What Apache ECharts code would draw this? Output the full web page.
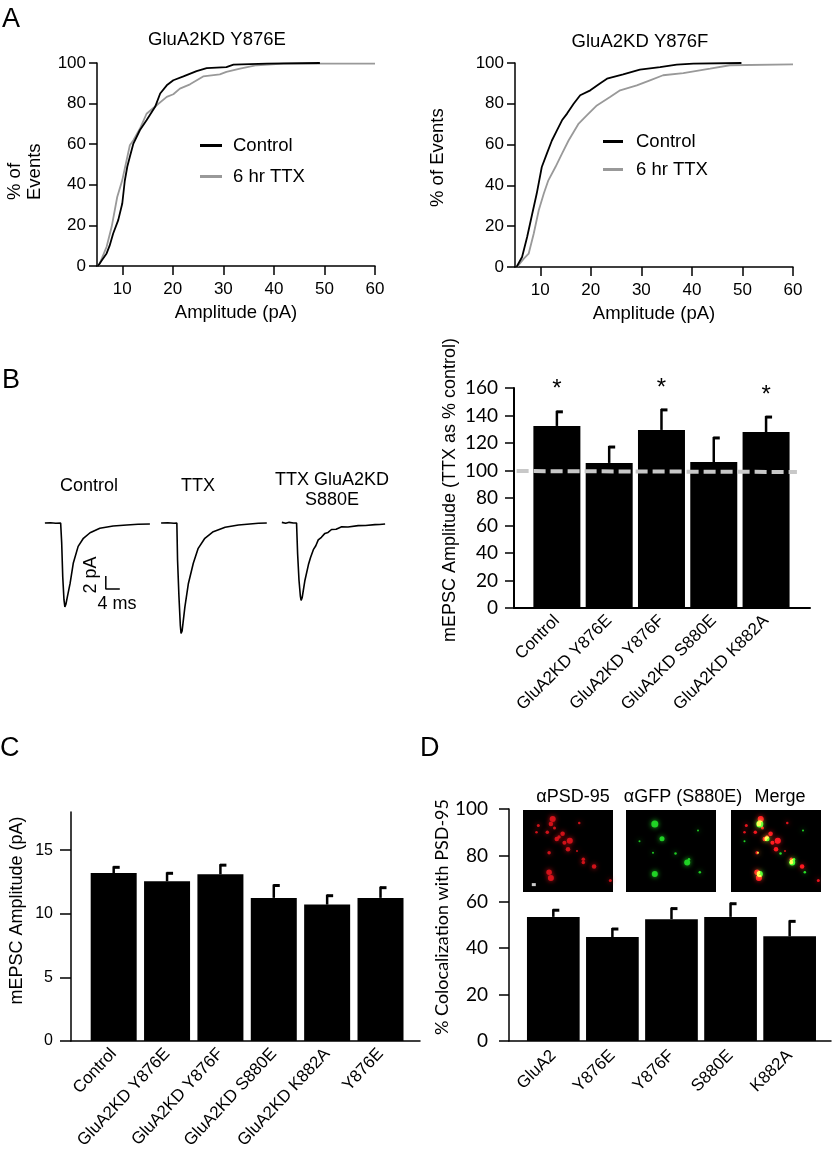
<!DOCTYPE html>
<html><head><meta charset="utf-8">
<script src="https://cdn.jsdelivr.net/npm/echarts@6/dist/echarts.min.js"></script>
<style>html,body{margin:0;padding:0;background:#fff}#c{width:833px;height:1157px}</style>
</head><body><div id="c"></div>
<script>
// ---------- Panel A: cumulative amplitude distributions [pA, % of events] ----------
const cdfY876E_Control = [[5.2,0],[6.0,3],[6.9,6.2],[7.5,10],[8.2,16],[9.2,22.6],[10,30.8],[10.5,42],[11,49],[11.5,53.8],[12.2,60.3],[13.5,67],[14.8,71.8],[16.5,78.4],[17.5,85],[18.8,89],[20.1,91.5],[22.1,93.4],[24.7,96],[26.7,97.5],[30.6,98],[32,99.2],[38.6,99.7],[49.1,100]];
const cdfY876E_TTX = [[5.3,0],[6.0,4],[6.9,9.5],[7.9,19.3],[9,34],[10,42.3],[11.5,59.5],[12.2,62],[13.5,67.7],[14.8,75],[16.8,79.2],[18.8,83.3],[20.1,84.6],[21.4,87.4],[23.4,89.5],[26,93.4],[29.3,94.4],[30.6,95.6],[33.3,97.2],[36.6,98.9],[41.9,99.7],[60,99.7]];
const cdfY876F_Control = [[5.3,0],[6.4,4.9],[7.4,14.7],[8.4,26],[9.3,36],[10.3,49],[11.3,55.6],[12.3,62],[13.3,67],[14.3,71.9],[15.3,75.2],[16.6,80],[17.9,84.2],[19.9,86.6],[21.8,90],[23.2,92.3],[26.4,94.4],[29.7,96.7],[33.7,98],[37,99.2],[40.3,99.7],[49.8,100]];
const cdfY876F_TTX = [[5.4,0],[6.7,4],[7.7,6.5],[8.7,16.3],[9.7,27.8],[10.7,36],[11.6,42.5],[13,49],[14.3,55.6],[15.6,62],[16.6,66.2],[17.6,70.3],[19.2,74.3],[21.2,79.2],[23.8,83.3],[25.8,86.6],[29.1,89],[31.7,91.5],[34.3,94],[38.3,95],[43.6,97.2],[47.5,98.9],[60,99.3]];
const cdfTicks = [10,20,30,40,50,60];

// ---------- Panel B: example traces [time ms, current pA] ----------
const traceControl = [[1.4,0],[3,0.05],[4.5,-0.05],[5.9,0],[6.2,-3.1],[6.5,-8.3],[6.85,-11.8],[7.1,-12.9],[7.4,-12.5],[7.8,-11.4],[8.6,-9.3],[9.5,-6.2],[10.9,-3.6],[12.4,-2.35],[14.3,-1.5],[17.1,-0.82],[20.9,-0.46],[24.8,-0.3],[28,-0.2],[31.4,-0.15]];
const traceTTX = [[34.6,0],[36.5,0.05],[38.3,-0.05],[39.1,0],[39.3,-5.7],[39.7,-11.3],[40.1,-15.8],[40.3,-17],[40.6,-16.6],[41.4,-12.9],[42.4,-9.3],[43.8,-6.2],[45.2,-3.9],[47.1,-2.35],[49.5,-1.34],[52.9,-0.66],[56.7,-0.3],[62.4,-0.05],[64.8,0]];
const traceS880E = [[69.1,0.1],[70.2,-0.05],[71.2,0.1],[72.4,0],[73.3,0],[73.6,-4.7],[74,-8.8],[74.4,-11.3],[74.6,-11.9],[74.9,-11.5],[75.7,-8.8],[76.7,-6.4],[77.3,-5.3],[78.1,-4.1],[78.8,-3.5],[79.5,-2.6],[80.4,-2.2],[81.4,-1.6],[82.3,-1.45],[83.3,-1.0],[84.6,-0.95],[86.2,-0.57],[88,-0.62],[90.9,-0.4],[93,-0.38],[95.7,-0.25],[97,-0.22],[98.6,-0.15]];
const scaleBar = [[18.8,-8.15],[18.8,-10.15],[22.8,-10.15]]; // 2 pA, 4 ms

// ---------- Panel B: TTX as % control ----------
const catsB = ['Control','GluA2KD Y876E','GluA2KD Y876F','GluA2KD S880E','GluA2KD K882A'];
const meanB = [132.4,105.5,129.5,106.2,128];
const semB = [11,12.3,15.3,18.2,11.6];
const sigB = [1,0,1,0,1];
const refLineB = [[-0.77,99.6],[4.59,98.9]];

// ---------- Panel C: mEPSC amplitude ----------
const catsC = ['Control','GluA2KD Y876E','GluA2KD Y876F','GluA2KD S880E','GluA2KD K882A','Y876E'];
const meanC = [13.2,12.55,13.1,11.25,10.72,11.25];
const semC = [0.53,0.71,0.8,1.05,0.78,0.88];

// ---------- Panel D: colocalization ----------
const catsD = ['GluA2','Y876E','Y876F','S880E','K882A'];
const meanD = [53.5,44.8,52.5,53.5,45.1];
const semD = [3.3,3.9,5.0,6.1,6.9];
// puncta [u, v, size] in image fraction
const redPuncta = [[0.33,0.11,6],[0.31,0.17,4.5],[0.17,0.19,3],[0.27,0.27,3.5],[0.15,0.27,2.5],[0.44,0.29,4.5],[0.375,0.355,4.5],[0.52,0.375,6],[0.46,0.40,4],[0.50,0.48,4.5],[0.29,0.52,3.5],[0.67,0.60,3.5],[0.67,0.64,3.5],[0.79,0.69,4.5],[0.29,0.76,5.5],[0.31,0.83,6],[0.625,0.16,2.5],[0.97,0.86,3],[0.60,0.50,2],[0.35,0.22,3],[0.40,0.33,3.5]];
const greenPuncta = [[0.32,0.17,7],[0.40,0.35,5],[0.68,0.64,6],[0.32,0.78,6],[0.55,0.53,2.5],[0.30,0.52,2],[0.82,0.76,2.5],[0.80,0.25,2],[0.15,0.38,2],[0.70,0.60,2.5]];
const imgScaleBar = [[0.12,0.91]];

const F = 'Liberation Sans, Arial, Helvetica, sans-serif';
const FC = 'Lato, Open Sans, sans-serif';
const BLK = '#000';

function toXY(cats, means){ return means.map((m,i)=>[i,m]); }
function errData(means, sems, sig){ return means.map((m,i)=>[i,m,sems[i], sig?sig[i]:0]); }

function cdfX(gi){
  return {gridIndex:gi,type:'value',min:5,max:60,
    axisLine:{show:true,onZero:false,lineStyle:{color:BLK,width:1.5}},
    axisTick:{show:true,length:9,lineStyle:{color:BLK,width:1.5},customValues:cdfTicks},
    axisLabel:{customValues:cdfTicks,color:BLK,fontFamily:F,fontSize:17,margin:15},
    splitLine:{show:false},
    name:'Amplitude (pA)',nameLocation:'middle',nameGap:37,
    nameTextStyle:{color:BLK,fontFamily:F,fontSize:18.5}};
}
function cdfY(gi){
  return {gridIndex:gi,type:'value',min:0,max:100,interval:20,
    axisLine:{show:true,onZero:false,lineStyle:{color:BLK,width:1.5}},
    axisTick:{show:true,length:8,lineStyle:{color:BLK,width:1.5}},
    axisLabel:{color:BLK,fontFamily:F,fontSize:17,margin:11},
    splitLine:{show:false}};
}
function barX(gi,min,max,cats,fs,margin,lw,rot){
  const vals = cats.map((c,i)=>i);
  return {gridIndex:gi,type:'value',min:min,max:max,
    axisLine:{show:true,onZero:false,lineStyle:{color:BLK,width:lw}},
    axisTick:{show:false},
    axisLabel:{customValues:vals,formatter:(v)=>cats[Math.round(v)]||'',rotate:rot||45,color:BLK,fontFamily:F,fontSize:fs,margin:margin},
    splitLine:{show:false}};
}
function errSeries(gi,data){
  return {type:'custom',xAxisIndex:gi,yAxisIndex:gi,data:data,z:5,clip:false,
    renderItem:function(params,api){
      const x=api.value(0), m=api.value(1), e=api.value(2), s=api.value(3);
      const p0=api.coord([x,m]), p1=api.coord([x,m+e]);
      const ch=[
        {type:'line',shape:{x1:p0[0],y1:p0[1],x2:p1[0],y2:p1[1]},style:{stroke:BLK,lineWidth:2.5}},
        {type:'line',shape:{x1:p1[0]-0.5,y1:p1[1]+1,x2:p1[0]+6,y2:p1[1]+1},style:{stroke:BLK,lineWidth:3}}
      ];
      if(s){ ch.push({type:'text',style:{text:'*',x:p1[0],y:p1[1]-21,align:'center',verticalAlign:'middle',font:'24px '+F,fill:BLK}}); }
      return {type:'group',children:ch};
    }};
}
function imgAxes(gi){
  return [{gridIndex:gi,type:'value',min:0,max:1,show:false},{gridIndex:gi,type:'value',min:0,max:1,inverse:true,show:false}];
}
function puncta(gi,data,color,blend){
  return {type:'scatter',xAxisIndex:gi,yAxisIndex:gi,data:data,symbolSize:(d)=>d[2],
    itemStyle:{color:color,shadowBlur:5,shadowColor:color,opacity:0.9},blendMode:blend||'source-over',silent:true};
}

const imgX=[], imgY=[];
[6,7,8].forEach(g=>{const a=imgAxes(g); imgX.push(a[0]); imgY.push(a[1]);});

function txt(text,x,y,size,opts){
  return {type:'text',x:x,y:y,style:Object.assign({text:text,font:size+'px '+F,fill:BLK,align:'center',verticalAlign:'middle'},opts||{})};
}
const legendBase = {orient:'vertical',icon:'rect',itemWidth:22,itemHeight:3,padding:0,selectedMode:false,data:['Control','6 hr TTX']};

const option = {
  animation:false,
  backgroundColor:'#fff',
  grid:[
    {left:97,top:63,width:278,height:203},          // 0 A left
    {left:515,top:63,width:278,height:204},         // 1 A right
    {left:40,top:510,width:350,height:130},         // 2 B traces
    {left:514,top:388,width:296,height:220},        // 3 B bars
    {left:71,top:812,width:349,height:229},         // 4 C
    {left:509,top:809,width:322,height:232},        // 5 D
    {left:523,top:810,width:90,height:82,show:true,backgroundColor:'#000',borderWidth:0}, // 6
    {left:626,top:810,width:90,height:82,show:true,backgroundColor:'#000',borderWidth:0}, // 7
    {left:731,top:810,width:90,height:82,show:true,backgroundColor:'#000',borderWidth:0}  // 8
  ],
  xAxis:[
    cdfX(0), cdfX(1),
    {gridIndex:2,type:'value',min:0,max:100,show:false},
    barX(3,-0.82,4.84,catsB,17,10,2,45),
    barX(4,-0.8,5.74,catsC,17,10,1.5,47),
    barX(5,-0.75,4.70,catsD,17,12,1.5,45)
  ].concat(imgX),
  yAxis:[
    cdfY(0), cdfY(1),
    {gridIndex:2,type:'value',min:-18,max:2,show:false},
    {gridIndex:3,type:'value',min:0,max:160,interval:20,
      axisLine:{show:true,onZero:false,lineStyle:{color:BLK,width:2}},
      axisTick:{show:true,length:9,lineStyle:{color:BLK,width:1.5}},
      axisLabel:{color:BLK,fontFamily:FC,fontSize:19,margin:16},
      splitLine:{show:false},
      name:'mEPSC Amplitude (TTX as % control)',nameLocation:'middle',nameGap:55,
      nameTextStyle:{color:BLK,fontFamily:F,fontSize:18,padding:[0,0,0,16]}},
    {gridIndex:4,type:'value',min:0,max:18,
      axisLine:{show:true,onZero:false,lineStyle:{color:BLK,width:1.5}},
      axisTick:{show:true,length:11,lineStyle:{color:BLK,width:1.5},customValues:[0,5,10,15]},
      axisLabel:{customValues:[0,5,10,15],color:BLK,fontFamily:F,fontSize:16,margin:18},
      splitLine:{show:false},
      name:'mEPSC Amplitude (pA)',nameLocation:'middle',nameGap:45,
      nameTextStyle:{color:BLK,fontFamily:F,fontSize:18,padding:[0,0,0,32]}},
    {gridIndex:5,type:'value',min:0,max:100,interval:20,
      axisLine:{show:true,onZero:false,lineStyle:{color:BLK,width:1.5}},
      axisTick:{show:true,length:10,lineStyle:{color:BLK,width:1.5}},
      axisLabel:{color:BLK,fontFamily:FC,fontSize:19,margin:21},
      splitLine:{show:false},
      name:'% Colocalization with PSD-95',nameLocation:'middle',nameGap:56,
      nameTextStyle:{color:BLK,fontFamily:FC,fontSize:18,padding:[0,0,0,16]}}
  ].concat(imgY),
  legend:[
    Object.assign({},legendBase,{left:200,top:136,itemGap:12,textStyle:{fontFamily:F,fontSize:18.5,color:BLK,padding:[0,0,0,6]}}),
    Object.assign({},legendBase,{left:603,top:132,itemGap:9,itemWidth:20,textStyle:{fontFamily:F,fontSize:18.5,color:BLK,padding:[0,0,0,8]}})
  ],
  series:[
    {name:'Control',type:'line',xAxisIndex:0,yAxisIndex:0,data:cdfY876E_Control,symbol:'none',lineStyle:{color:'#000',width:1.8},itemStyle:{color:'#000'},z:3},
    {name:'6 hr TTX',type:'line',xAxisIndex:0,yAxisIndex:0,data:cdfY876E_TTX,symbol:'none',lineStyle:{color:'#999',width:1.8},itemStyle:{color:'#999'},z:2},
    {name:'Control',type:'line',xAxisIndex:1,yAxisIndex:1,data:cdfY876F_Control,symbol:'none',lineStyle:{color:'#000',width:1.8},itemStyle:{color:'#000'},z:3},
    {name:'6 hr TTX',type:'line',xAxisIndex:1,yAxisIndex:1,data:cdfY876F_TTX,symbol:'none',lineStyle:{color:'#999',width:1.8},itemStyle:{color:'#999'},z:2},

    {type:'line',xAxisIndex:2,yAxisIndex:2,data:traceControl,symbol:'none',lineStyle:{color:BLK,width:1.6},clip:false},
    {type:'line',xAxisIndex:2,yAxisIndex:2,data:traceTTX,symbol:'none',lineStyle:{color:BLK,width:1.6},clip:false},
    {type:'line',xAxisIndex:2,yAxisIndex:2,data:traceS880E,symbol:'none',lineStyle:{color:BLK,width:1.6},clip:false},
    {type:'line',xAxisIndex:2,yAxisIndex:2,data:scaleBar,symbol:'none',lineStyle:{color:BLK,width:1.5},clip:false},

    {type:'bar',xAxisIndex:3,yAxisIndex:3,data:toXY(catsB,meanB),barWidth:47,itemStyle:{color:BLK},z:2},
    errSeries(3,errData(meanB,semB,sigB)),
    {type:'line',xAxisIndex:3,yAxisIndex:3,data:refLineB,symbol:'none',lineStyle:{color:'#c8c8c8',width:4,type:[12,5]},z:6},

    {type:'bar',xAxisIndex:4,yAxisIndex:4,data:toXY(catsC,meanC),barWidth:46,itemStyle:{color:BLK},z:2},
    errSeries(4,errData(meanC,semC,null)),

    {type:'bar',xAxisIndex:5,yAxisIndex:5,data:toXY(catsD,meanD),barWidth:52.7,itemStyle:{color:BLK},z:2},
    errSeries(5,errData(meanD,semD,null)),

    puncta(6,redPuncta,'#e0141c'),
    puncta(7,greenPuncta,'#22e028'),
    puncta(8,redPuncta,'#e0141c','lighter'),
    puncta(8,greenPuncta,'#22e028','lighter'),
    {type:'scatter',xAxisIndex:6,yAxisIndex:6,data:imgScaleBar,symbol:'rect',symbolSize:[4,3],itemStyle:{color:'#fff'}}
  ],
  graphic:[
    txt('A',2,20,27,{align:'left'}),
    txt('B',2,381,27,{align:'left'}),
    txt('C',0,749,27,{align:'left'}),
    txt('D',420,749,27,{align:'left'}),
    txt('GluA2KD Y876E',217,40,18.5),
    txt('GluA2KD Y876F',640,42,18.5),
    {type:'text',x:25,y:200,rotation:Math.PI/2,style:{text:'% of\nEvents',font:'18.5px '+F,fill:BLK,align:'left',verticalAlign:'middle',lineHeight:20}},
    {type:'text',x:438,y:207,rotation:Math.PI/2,style:{text:'% of Events',font:'18.5px '+F,fill:BLK,align:'left',verticalAlign:'middle'}},
    txt('Control',89,486,18),
    txt('TTX',198,486,18),
    txt('TTX GluA2KD',332,480,18),
    txt('S880E',332,500,18),
    {type:'text',x:91,y:575,rotation:Math.PI/2,style:{text:'2 pA',font:'18px '+F,fill:BLK,align:'center',verticalAlign:'middle'}},
    txt('4 ms',117,604,18),
    txt('αPSD-95',573,797,18),
    txt('αGFP (S880E)',683,797,18),
    txt('Merge',780,797,18)
  ]
};
const chart = echarts.init(document.getElementById('c'));
chart.setOption(option);
</script>
</body></html>
